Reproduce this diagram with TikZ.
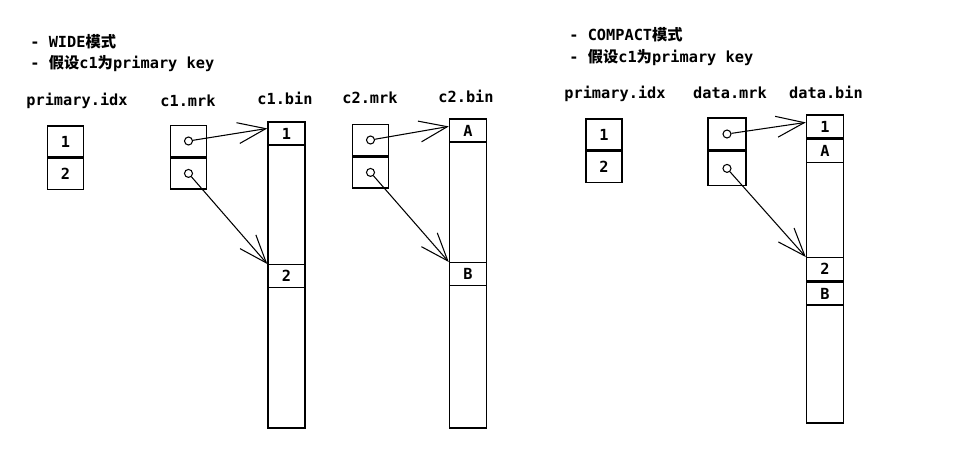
\documentclass[tikz,border=0pt]{standalone}
\usepackage{fontspec}
\setmonofont{DejaVu Sans Mono}
\newfontfamily\cjk{Noto Sans CJK SC}
\usetikzlibrary{arrows.meta}

\tikzset{
  txt/.style={font=\fontsize{8.7}{10}\selectfont\ttfamily\bfseries, inner sep=0pt},
  cell/.style={txt, draw, line width=0.8pt, minimum width=0.72cm, minimum height=0.62cm},
  bincell/.style={cell, minimum width=0.74cm, minimum height=0.46cm},
  column/.style={draw, line width=0.7pt, minimum width=0.74cm, inner sep=0pt},
  dot/.style={circle, draw, line width=0.6pt, inner sep=0pt, minimum size=0.16cm},
  ptr/.style={-{Straight Barb[length=0.56cm,width=0.42cm]}, line width=0.6pt}
}

\begin{document}
\begin{tikzpicture}[x=0.02cm, y=-0.02cm]
  \useasboundingbox (0,0) rectangle (968,461);

  % WIDE
  \node[txt, anchor=base west] (wide) at (30,47) {- WIDE{\cjk 模式}};
  \node[txt, anchor=base west] (wkey) at (30,68) {- {\cjk 假设}c1{\cjk 为}primary key};

  \node[txt, anchor=base] (widx) at (77,105) {primary.idx};
  \node[txt, anchor=base] (c1mrk) at (188,106) {c1.mrk};
  \node[txt, anchor=base] (c1bin) at (285,104) {c1.bin};
  \node[txt, anchor=base] (c2mrk) at (370,103) {c2.mrk};
  \node[txt, anchor=base] (c2bin) at (466,102) {c2.bin};

  \node[cell] (wi1) at (65.5,141.5) {1};
  \node[cell, anchor=north] (wi2) at (wi1.south) {2};

  \node[cell] (c1m1) at (188.5,141) {};
  \node[cell, anchor=north] (c1m2) at (c1m1.south) {};
  \node[dot] (c1p1) at (c1m1) {};
  \node[dot] (c1p2) at (c1m2) {};

  \node[column, minimum height=6.12cm] (c1col) at (286.5,275) {};
  \node[bincell, anchor=north] (c1b1) at (c1col.north) {1};
  \node[bincell, anchor=north] (c1b2) at (286.5,264) {2};

  \node[cell] (c2m1) at (370.5,140) {};
  \node[cell, anchor=north] (c2m2) at (c2m1.south) {};
  \node[dot] (c2p1) at (c2m1) {};
  \node[dot] (c2p2) at (c2m2) {};

  \node[column, minimum height=6.18cm] (c2col) at (468,273.5) {};
  \node[bincell, anchor=north] (c2b1) at (c2col.north) {A};
  \node[bincell, anchor=north] (c2b2) at (468,262) {B};

  \draw[ptr] (c1p1) -- ([yshift=-0.14cm]c1b1.north west);
  \draw[ptr] (c1p2) -- (c1b2.north west);
  \draw[ptr] (c2p1) -- ([yshift=-0.16cm]c2b1.north west);
  \draw[ptr] (c2p2) -- (c2b2.north west);

  % COMPACT
  \node[txt, anchor=base west] (compact) at (569,40) {- COMPACT{\cjk 模式}};
  \node[txt, anchor=base west] (ckey) at (569,62) {- {\cjk 假设}c1{\cjk 为}primary key};

  \node[txt, anchor=base] (cidx) at (615,98) {primary.idx};
  \node[txt, anchor=base] (dmrk) at (730,98) {data.mrk};
  \node[txt, anchor=base] (dbin) at (826,98) {data.bin};

  \node[cell] (ci1) at (604,134.5) {1};
  \node[cell, anchor=north] (ci2) at (ci1.south) {2};

  \node[cell, minimum width=0.76cm, minimum height=0.64cm] (dm1) at (727,134) {};
  \node[cell, minimum width=0.76cm, minimum height=0.68cm, anchor=north] (dm2) at (dm1.south) {};
  \node[dot] (dp1) at (dm1) {};
  \node[dot] (dp2) at (dm2) {};

  \node[column, minimum height=6.16cm] (dcol) at (825,269) {};
  \node[bincell, anchor=north] (db1) at (dcol.north) {1};
  \node[bincell, anchor=north] (db2) at (db1.south) {A};
  \node[bincell, anchor=north] (db3) at (825,257) {2};
  \node[bincell, anchor=north] (db4) at (db3.south) {B};

  \draw[ptr] (dp1) -- ([yshift=-0.16cm]db1.north west);
  \draw[ptr] (dp2) -- (db3.north west);
\end{tikzpicture}
\end{document}
